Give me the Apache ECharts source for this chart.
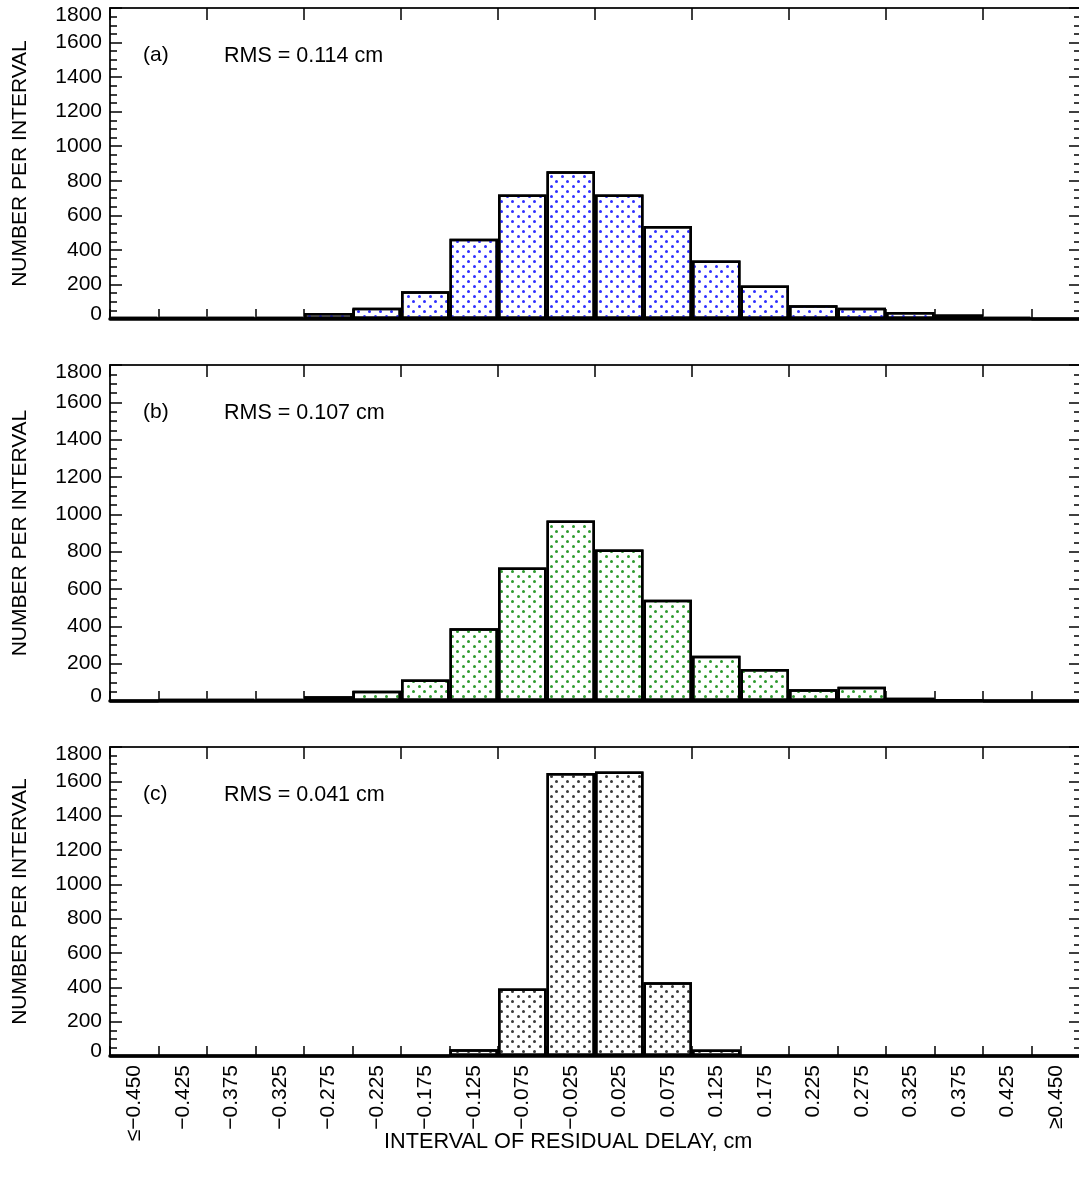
<!DOCTYPE html>
<html>
<head>
<meta charset="utf-8">
<script src="https://cdn.jsdelivr.net/npm/echarts@6/dist/echarts.min.js"></script>
<style>
html, body { margin: 0; padding: 0; background: #fff; }
#container { width: 1079px; height: 1181px; }
</style>
</head>
<body>
<div id="container"></div>
<script>
// bins of residual delay, cm
const bins = ['≤−0.450', '−0.425', '−0.375', '−0.325', '−0.275', '−0.225', '−0.175', '−0.125', '−0.075', '−0.025',
  '0.025', '0.075', '0.125', '0.175', '0.225', '0.275', '0.325', '0.375', '0.425', '≥0.450'];
// number per interval
const countsA = [12, 12, 12, 12, 35, 65, 160, 465, 720, 855, 720, 538, 338, 194, 80, 65, 40, 26, 12, 0];
const countsB = [0, 12, 12, 12, 25, 55, 115, 390, 715, 967, 811, 543, 242, 172, 63, 77, 18, 8, 0, 0];
const countsC = [0, 0, 0, 0, 0, 0, 0, 39, 393, 1648, 1658, 430, 38, 0, 0, 0, 0, 0, 0, 0];
const tags = ['(a)', '(b)', '(c)'];
const rmsLabels = ['RMS = 0.114 cm', 'RMS = 0.107 cm', 'RMS = 0.041 cm'];
const dotColors = ['#2f2fff', '#2e9a2e', '#3a3a3a'];
const yMax = 1800;

const FONT = '"Liberation Sans", Arial, Helvetica, sans-serif';
const FS = 21;

// panel frames (top, height) in px
const panels = [
  { top: 8, height: 311, data: countsA },
  { top: 365, height: 336, data: countsB },
  { top: 747, height: 309, data: countsC }
];

const chart = echarts.init(document.getElementById('container'));

let grid = [], xAxis = [], yAxis = [], series = [], graphic = [];

panels.forEach((p, i) => {
  grid.push({ left: 110, right: -1, top: p.top, height: p.height, outerBoundsMode: 'none', containLabel: false });
  const last = i === panels.length - 1;
  // bottom axis
  xAxis.push({
    type: 'category', gridIndex: i, data: bins, position: 'bottom',
    axisLine: { onZero: false, lineStyle: { color: '#000', width: 3.5 } },
    axisTick: { show: true, inside: true, length: 10, lineStyle: { color: '#000', width: 1.5 } },
    axisLabel: {
      show: last, rotate: 90, margin: 9, interval: 0,
      color: '#000', fontSize: FS, fontFamily: FONT
    },
    splitLine: { show: false }
  });
  // top axis (ticks only)
  xAxis.push({
    type: 'category', gridIndex: i, data: bins, position: 'top',
    axisLine: { onZero: false, lineStyle: { color: '#222', width: 2 } },
    axisTick: { show: true, inside: true, length: 12, lineStyle: { color: '#000', width: 1.5 } },
    axisLabel: { show: false },
    splitLine: { show: false }
  });
  yAxis.push({
    type: 'value', gridIndex: i, position: 'left', min: 0, max: yMax, interval: 200,
    name: 'NUMBER PER INTERVAL', nameLocation: 'middle', nameGap: 79,
    nameTextStyle: { color: '#000', fontSize: FS, fontFamily: FONT },
    axisLine: { show: true, onZero: false, lineStyle: { color: '#222', width: 2 } },
    axisTick: { show: true, inside: true, length: 12, lineStyle: { color: '#000', width: 1.5 } },
    minorTick: { show: true, splitNumber: 4, length: 7, lineStyle: { color: '#000', width: 1.5 } },
    axisLabel: {
      margin: 8, color: '#000', fontSize: FS, fontFamily: FONT,
      formatter: v => v === yMax ? '{hi|' + v + '}' : (v === 0 ? '{lo|0}' : String(v)),
      rich: {
        hi: { padding: [14, 0, 0, 0], fontSize: FS, fontFamily: FONT, color: '#000' },
        lo: { padding: [0, 0, 10, 0], fontSize: FS, fontFamily: FONT, color: '#000' }
      }
    },
    splitLine: { show: false }
  });
  yAxis.push({
    type: 'value', gridIndex: i, position: 'right', min: 0, max: yMax, interval: 200,
    axisLine: { show: false, onZero: false },
    axisTick: { show: true, inside: true, length: 11, lineStyle: { color: '#000', width: 1.5 } },
    minorTick: { show: true, splitNumber: 4, length: 6, lineStyle: { color: '#000', width: 1.5 } },
    axisLabel: { show: false },
    splitLine: { show: false }
  });
  series.push({
    type: 'bar', xAxisIndex: i * 2, yAxisIndex: i * 2, data: p.data,
    barCategoryGap: '0%', silent: true,
    itemStyle: {
      color: '#fff', borderColor: '#000', borderWidth: 2.5,
      decal: {
        symbol: 'circle', symbolSize: 1, color: dotColors[i],
        dashArrayX: [[3, 8], [0, 5, 3, 3]], dashArrayY: [3, 2]
      }
    }
  });
  graphic.push({
    type: 'text', left: 143, top: p.top + 37,
    style: { text: tags[i], fill: '#000', font: FS + 'px ' + FONT }
  });
  graphic.push({
    type: 'text', left: 224, top: p.top + 37,
    style: { text: rmsLabels[i], fill: '#000', font: '21.5px ' + FONT }
  });
});

graphic.push({
  type: 'text', left: 384, top: 1131,
  style: { text: 'INTERVAL OF RESIDUAL DELAY, cm', fill: '#000', font: '21.7px ' + FONT }
});

chart.setOption({
  backgroundColor: '#fff',
  animation: false,
  grid: grid,
  xAxis: xAxis,
  yAxis: yAxis,
  series: series,
  graphic: graphic
});
</script>
</body>
</html>
